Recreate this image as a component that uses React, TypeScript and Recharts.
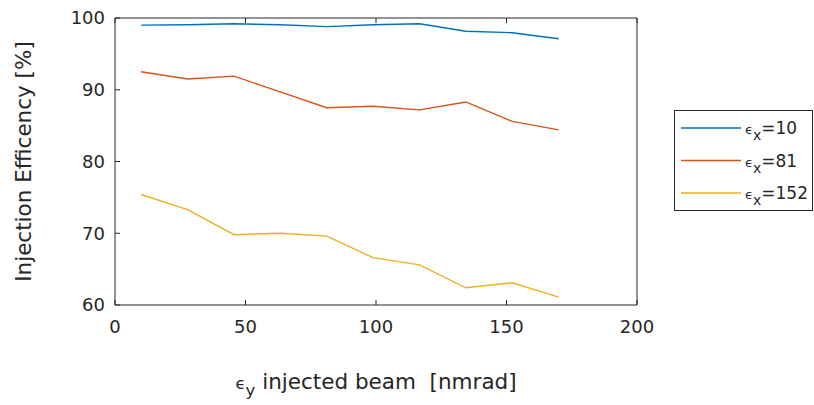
import { LineChart, Line, XAxis, YAxis, Legend } from "recharts";

// vertical emittance of the injected beam [nmrad]
const emitY = [10, 27.8, 45.6, 63.3, 81.1, 98.9, 116.7, 134.4, 152.2, 170];

// injection efficiency [%] for three horizontal emittances
const effX10 = [99.0, 99.05, 99.2, 99.05, 98.8, 99.05, 99.2, 98.15, 97.95, 97.1];
const effX81 = [92.5, 91.5, 91.9, 89.7, 87.5, 87.7, 87.2, 88.3, 85.6, 84.4];
const effX152 = [75.4, 73.3, 69.8, 70.0, 69.6, 66.6, 65.6, 62.4, 63.1, 61.1];

const xTicks = [0, 50, 100, 150, 200];
const yTicks = [60, 70, 80, 90, 100];

const series = [
  { key: "a", name: "10", color: "#0072BD", values: effX10 },
  { key: "b", name: "81", color: "#D95319", values: effX81 },
  { key: "c", name: "152", color: "#EDB120", values: effX152 },
];

const data = emitY.map((x, i) => {
  const row: Record<string, number> = { x };
  series.forEach((s) => (row[s.key] = s.values[i]));
  return row;
});

const INK = "#262626";
const FONT = "DejaVu Sans, sans-serif";
const TICK = 5;

const BottomTick = (p: any) => (
  <g>
    <line x1={p.x} y1={p.y} x2={p.x} y2={p.y - TICK} stroke={INK} />
    <text x={p.x} y={p.y + 28} textAnchor="middle" fill={INK} fontSize={18} fontFamily={FONT}>
      {p.payload.value}
    </text>
  </g>
);

const TopTick = (p: any) => <line x1={p.x} y1={p.y} x2={p.x} y2={p.y + TICK} stroke={INK} />;

const LeftTick = (p: any) => (
  <g>
    <line x1={p.x} y1={p.y} x2={p.x + TICK} y2={p.y} stroke={INK} />
    <text x={p.x - 10} y={p.y} dy="0.36em" textAnchor="end" fill={INK} fontSize={18} fontFamily={FONT}>
      {p.payload.value}
    </text>
  </g>
);

const RightTick = (p: any) => <line x1={p.x} y1={p.y} x2={p.x - TICK} y2={p.y} stroke={INK} />;

const XLabel = (p: any) => {
  const vb = p.viewBox;
  return (
    <text
      x={vb.x + vb.width / 2}
      y={vb.y + 84}
      textAnchor="middle"
      fill={INK}
      fontSize={21.5}
      fontFamily={FONT}
      style={{ whiteSpace: "pre" }}
    >
      <tspan fontSize={16.5}>ϵ</tspan>
      <tspan fontSize={16.5} dy={7}>y</tspan>
      <tspan dy={-7}>{" injected beam  [nmrad]"}</tspan>
    </text>
  );
};

const YLabel = (p: any) => {
  const vb = p.viewBox;
  const cx = 23;
  const cy = vb.y + vb.height / 2;
  return (
    <text
      x={cx}
      y={cy}
      dy="0.36em"
      transform={`rotate(-90 ${cx} ${cy})`}
      textAnchor="middle"
      fill={INK}
      fontSize={21.5}
      fontFamily={FONT}
    >
      Injection Efficency [%]
    </text>
  );
};

const LegendBox = () => (
  <svg width={139} height={101} style={{ display: "block" }}>
    <rect x={0.5} y={0.5} width={138} height={100} fill="#fff" stroke={INK} />
    {series.map((s, i) => {
      const y = 18 + i * 32.5;
      return (
        <g key={s.key}>
          <line x1={7} x2={67} y1={y} y2={y} stroke={s.color} strokeWidth={1.5} />
          <text x={71} y={y} dy="0.36em" fill={INK} fontSize={17} fontFamily={FONT}>
            <tspan fontSize={13}>ϵ</tspan>
            <tspan fontSize={14} dy={6}>x</tspan>
            <tspan dy={-6}>={s.name}</tspan>
          </text>
        </g>
      );
    })}
  </svg>
);

export default function App() {
  return (
    <div style={{ position: "absolute", left: 0, top: 0, width: 814, height: 405, background: "#fff" }}>
      <LineChart width={814} height={405} data={data} margin={{ top: 17, right: 176, bottom: 70, left: 55 }}>
        <XAxis
          dataKey="x"
          type="number"
          domain={[0, 200]}
          ticks={xTicks}
          height={30}
          tickSize={0}
          tickMargin={0}
          tickLine={false}
          axisLine={{ stroke: INK }}
          tick={<BottomTick />}
          label={<XLabel />}
        />
        <XAxis
          xAxisId="top"
          orientation="top"
          dataKey="x"
          type="number"
          domain={[0, 200]}
          ticks={xTicks}
          height={1}
          tickSize={0}
          tickMargin={0}
          tickLine={false}
          axisLine={{ stroke: INK }}
          tick={<TopTick />}
        />
        <YAxis
          type="number"
          domain={[60, 100]}
          ticks={yTicks}
          width={60}
          tickSize={0}
          tickMargin={0}
          tickLine={false}
          axisLine={{ stroke: INK }}
          tick={<LeftTick />}
          label={<YLabel />}
        />
        <YAxis
          yAxisId="right"
          orientation="right"
          type="number"
          domain={[60, 100]}
          ticks={yTicks}
          width={1}
          tickSize={0}
          tickMargin={0}
          tickLine={false}
          axisLine={{ stroke: INK }}
          tick={<RightTick />}
        />
        {series.map((s) => (
          <Line
            key={s.key}
            dataKey={s.key}
            name={s.name}
            stroke={s.color}
            strokeWidth={1.4}
            dot={false}
            type="linear"
            isAnimationActive={false}
          />
        ))}
        <Legend
          layout="vertical"
          align="center"
          verticalAlign="middle"
          content={<LegendBox />}
          wrapperStyle={{ left: 674, top: 110, width: 139, height: 101 }}
        />
      </LineChart>
    </div>
  );
}
